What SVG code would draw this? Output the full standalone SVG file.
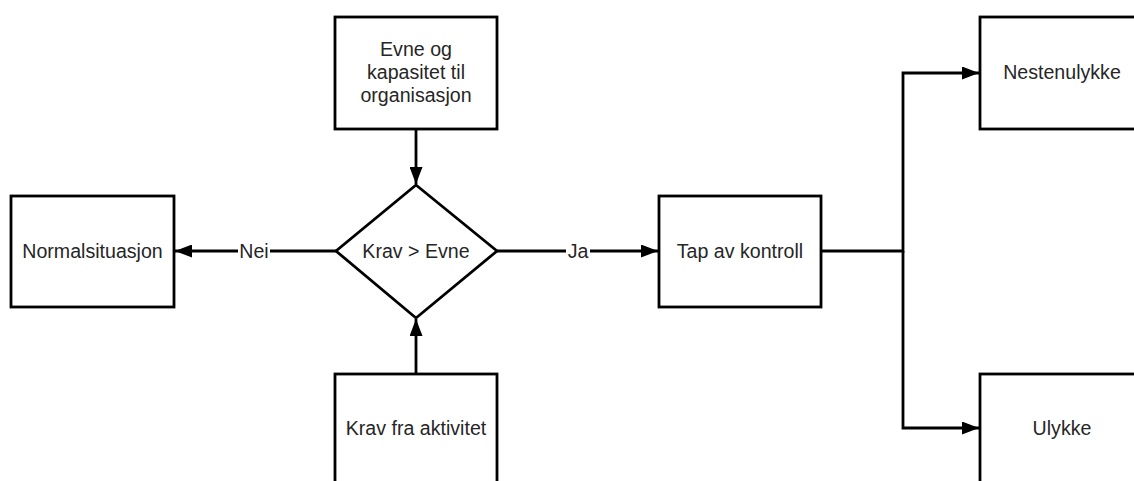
<svg xmlns="http://www.w3.org/2000/svg" width="1134" height="481" viewBox="0 0 1134 481">
  <style>
    .box { fill: #ffffff; stroke: #000000; stroke-width: 2.8; }
    .edge { fill: none; stroke: #000000; stroke-width: 2.8; }
    .lbl { font-family: "Liberation Sans", Arial, sans-serif; font-size: 19.6px; fill: #262626; text-anchor: middle; dominant-baseline: central; }
    .bg { fill: #ffffff; }
  </style>
  <defs>
    <marker id="arrow" viewBox="0 0 17 13" refX="17" refY="6.5" markerWidth="17" markerHeight="13" markerUnits="userSpaceOnUse" orient="auto">
      <path d="M0,0 L17,6.5 L0,13 Z" fill="#000000"/>
    </marker>
  </defs>
  <rect width="1134" height="481" fill="#ffffff"/>

  <!-- connectors -->
  <g id="connectors">
    <path class="edge" d="M416,129 V184" marker-end="url(#arrow)"/>
    <path class="edge" d="M416,374 V319" marker-end="url(#arrow)"/>
    <path class="edge" d="M336,251 H175" marker-end="url(#arrow)"/>
    <rect class="bg" x="238" y="240" width="32" height="22"/>
    <text class="lbl" x="254" y="251">Nei</text>
    <path class="edge" d="M497,251 H658" marker-end="url(#arrow)"/>
    <rect class="bg" x="566" y="240" width="24" height="22"/>
    <text class="lbl" x="578" y="251">Ja</text>
    <path class="edge" d="M821,251 H903 V73 H979" marker-end="url(#arrow)"/>
    <path class="edge" d="M903,251 V428 H979" marker-end="url(#arrow)"/>
  </g>

  <g id="node-evne">
    <rect class="box" x="335" y="17" width="162" height="112"/>
    <text class="lbl" x="416" y="49">Evne og</text>
    <text class="lbl" x="416" y="72">kapasitet til</text>
    <text class="lbl" x="416" y="95">organisasjon</text>
  </g>

  <g id="node-krav-evne">
    <path class="box" d="M416,185 L497,251 L416,318 L336,251 Z"/>
    <text class="lbl" x="416" y="251">Krav &gt; Evne</text>
  </g>

  <g id="node-normal">
    <rect class="box" x="11" y="196" width="163" height="111"/>
    <text class="lbl" x="92.5" y="251">Normalsituasjon</text>
  </g>

  <g id="node-krav-aktivitet">
    <rect class="box" x="335" y="374" width="162" height="120"/>
    <text class="lbl" x="416" y="428">Krav fra aktivitet</text>
  </g>

  <g id="node-tap">
    <rect class="box" x="659" y="196" width="162" height="111"/>
    <text class="lbl" x="740" y="251">Tap av kontroll</text>
  </g>

  <g id="node-nestenulykke">
    <rect class="box" x="980" y="17" width="162" height="112"/>
    <text class="lbl" x="1062" y="72">Nestenulykke</text>
  </g>

  <g id="node-ulykke">
    <rect class="box" x="980" y="374" width="162" height="120"/>
    <text class="lbl" x="1062" y="428">Ulykke</text>
  </g>
</svg>
